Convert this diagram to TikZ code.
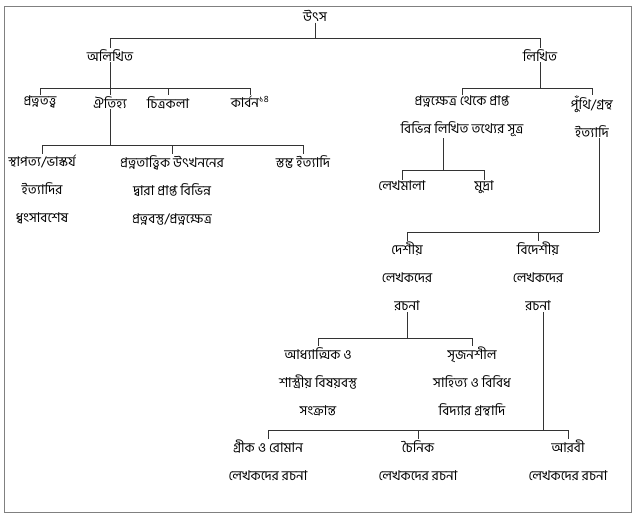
\documentclass[tikz,border=0pt]{standalone}
\usepackage{fontspec}
\newfontfamily\bangla[Script=Bengali]{Hind Siliguri}
\tikzstyle{every node}=[anchor=north,align=center,inner sep=1pt,font=\bangla\fontsize{13.5}{28}\selectfont]
\tikzstyle{edge}=[draw=black!80,line width=0.6pt]

\begin{document}
\begin{tikzpicture}[x=1pt,y=-1pt]
  \useasboundingbox (0,0) rectangle (639,518);
  \draw[gray,line width=0.8pt] (4,6) rectangle (631,512);
  % bar heights
  \coordinate (b1) at (0,38);
  \coordinate (b2) at (0,88);
  \coordinate (b3) at (0,145);
  \coordinate (b4) at (0,170);
  \coordinate (b5) at (0,232);
  \coordinate (b6) at (0,338);
  \coordinate (b7) at (0,430);
  \coordinate (s1) at (443,0);
  \coordinate (s2) at (599,0);
  \coordinate (s3) at (543,0);
  % nodes
  \node (src) at (315,9) {উৎস};
  \node (alikh) at (110,48) {অলিখিত};
  \node (likh) at (540,48) {লিখিত};
  \node (prot) at (40,95) {প্রত্নতত্ত্ব};
  \node (aiti) at (110,95) {ঐতিহ্য};
  \node (chitra) at (168,95) {চিত্রকলা};
  \node (carbon) at (250,95) {কার্বন\textsuperscript{১৪}};
  \node (sthap) at (42,154) {স্থাপত্য/ভাস্কর্য\\ইত্যাদির\\ধ্বংসাবশেষ};
  \node (khanan) at (172,154) {প্রত্নতাত্ত্বিক উৎখননের\\দ্বারা প্রাপ্ত বিভিন্ন\\প্রত্নবস্তু/প্রত্নক্ষেত্র};
  \node (stambha) at (303,154) {স্তম্ভ ইত্যাদি};
  \node (kshetra) at (462,95) {প্রত্নক্ষেত্র থেকে প্রাপ্ত\\বিভিন্ন লিখিত তথ্যের সূত্র};
  \node (puthi) at (592,95) {পুঁথি/গ্রন্থ\\ইত্যাদি};
  \node (lekh) at (402,180) {লেখমালা};
  \node (mudra) at (484,180) {মুদ্রা};
  \node (desh) at (407,241) {দেশীয়\\লেখকদের\\রচনা};
  \node (bidesh) at (538,241) {বিদেশীয়\\লেখকদের\\রচনা};
  \node (adhy) at (318,346) {আধ্যাত্মিক ও\\শাস্ত্রীয় বিষয়বস্তু\\সংক্রান্ত};
  \node (srij) at (472,346) {সৃজনশীল\\সাহিত্য ও বিবিধ\\বিদ্যার গ্রন্থাদি};
  \node (greek) at (268,439) {গ্রীক ও রোমান\\লেখকদের রচনা};
  \node (chin) at (418,439) {চৈনিক\\লেখকদের রচনা};
  \node (arabi) at (568,439) {আরবী\\লেখকদের রচনা};
  % connectors
  \draw[edge] (src.south) -- (src.south |- b1);
  \draw[edge] (alikh.north) |- (likh.north |- b1) -- (likh.north);
  \draw[edge] (alikh.south) -- (alikh.south |- b2);
  \draw[edge] (prot.north) |- (carbon.north |- b2) -- (carbon.north);
  \draw[edge] (aiti.north) -- (aiti.north |- b2);
  \draw[edge] (chitra.north) -- (chitra.north |- b2);
  \draw[edge] (aiti.south) -- (aiti.south |- b3);
  \draw[edge] (sthap.north) |- (stambha.north |- b3) -- (stambha.north);
  \draw[edge] (khanan.north) -- (khanan.north |- b3);
  \draw[edge] (likh.south) -- (likh.south |- b2);
  \draw[edge] (kshetra.north) |- (puthi.north |- b2) -- (puthi.north);
  \draw[edge] (kshetra.south -| s1) -- (s1 |- b4);
  \draw[edge] (lekh.north) |- (mudra.north |- b4) -- (mudra.north);
  \draw[edge] (puthi.south -| s2) -- (s2 |- b5);
  \draw[edge] (desh.north) |- (s2 |- b5);
  \draw[edge] (bidesh.north) -- (bidesh.north |- b5);
  \draw[edge] (desh.south) -- (desh.south |- b6);
  \draw[edge] (adhy.north) |- (srij.north |- b6) -- (srij.north);
  \draw[edge] (bidesh.south -| s3) -- (s3 |- b7);
  \draw[edge] (greek.north) |- (arabi.north |- b7) -- (arabi.north);
  \draw[edge] (chin.north) -- (chin.north |- b7);
\end{tikzpicture}
\end{document}
